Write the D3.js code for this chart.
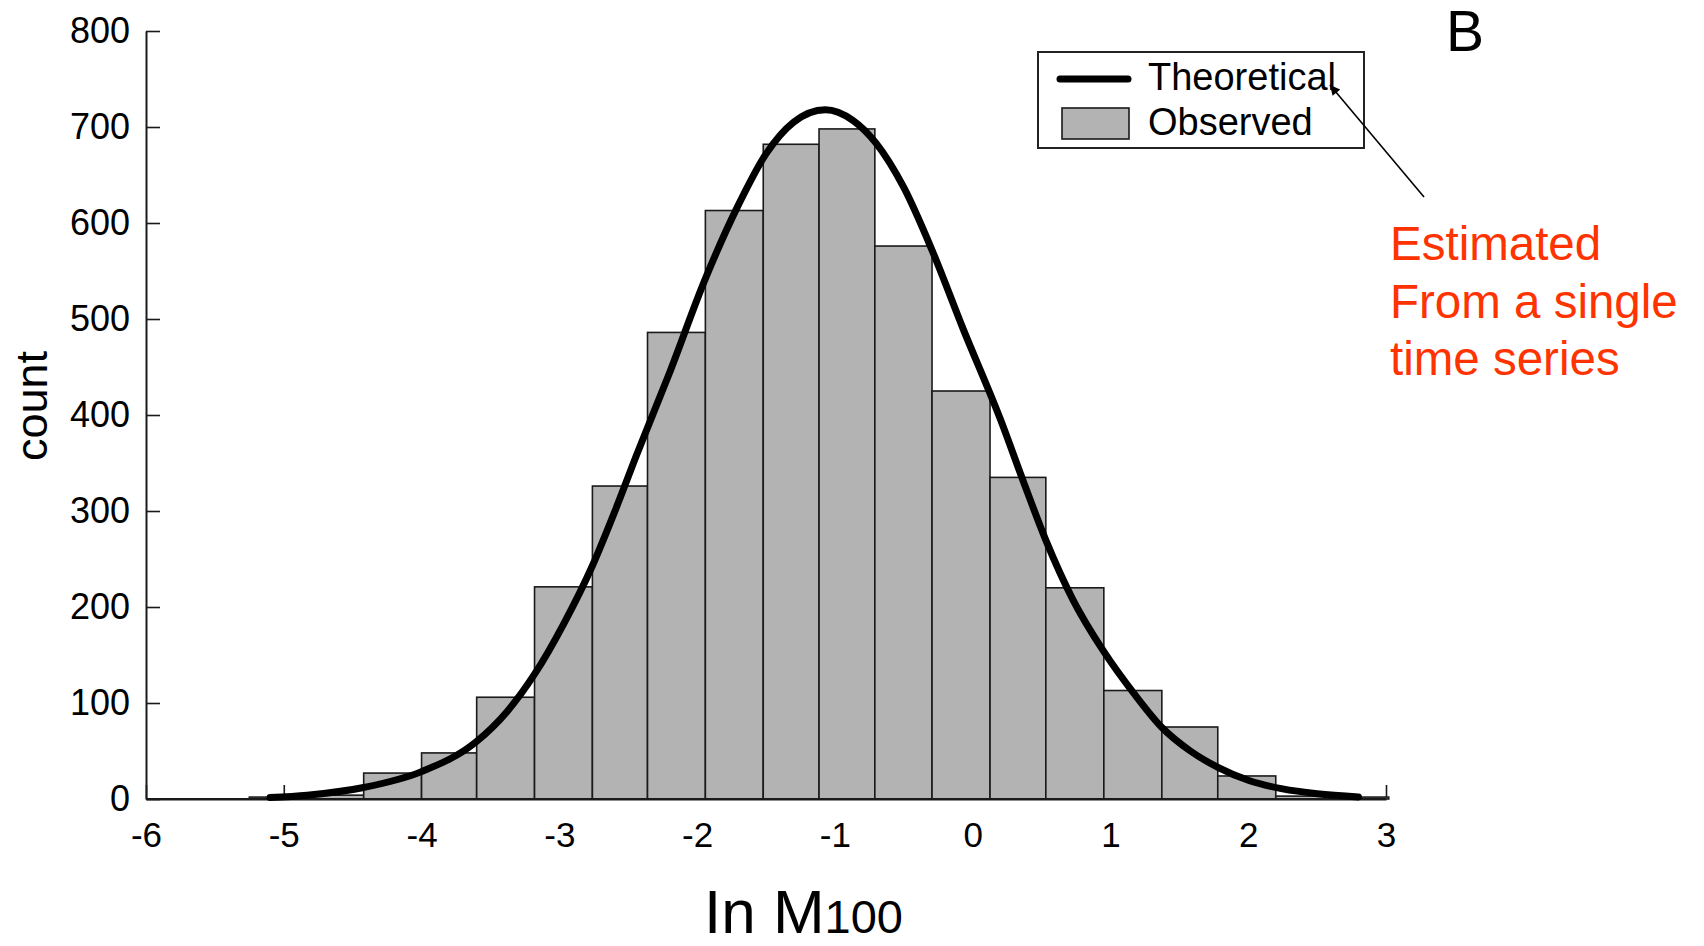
<!DOCTYPE html>
<html>
<head>
<meta charset="utf-8">
<script src="https://cdn.jsdelivr.net/npm/d3@7"></script>
<style>
  html, body { margin: 0; padding: 0; background: #ffffff; }
  svg { display: block; }
  text { font-family: "Liberation Sans", Arial, Helvetica, sans-serif; }
</style>
</head>
<body>
<svg id="chart" width="1704" height="946"></svg>
<script>
// ---- data ----
const binEdges = [-5.25, -4.84, -4.42, -4.00, -3.60, -3.18, -2.76, -2.36, -1.94, -1.52,
                  -1.115, -0.71, -0.295, 0.126, 0.531, 0.952, 1.373, 1.779, 2.20, 2.61, 3.02];
const observedCounts = [2, 4, 27, 48, 106, 221, 326, 486, 613, 682,
                        698, 576, 425, 335, 220, 113, 75, 24, 3, 2];

const theoreticalX = [-5.10, -4.83, -4.42, -4.00, -3.60, -3.38, -3.18, -2.97, -2.76, -2.585,
                      -2.44, -2.20, -1.94, -1.71, -1.50, -1.30, -1.07, -0.87, -0.70, -0.50,
                      -0.29, -0.07, 0.20, 0.37, 0.53, 0.73, 0.95, 1.17, 1.37, 1.58,
                      1.78, 2.01, 2.25, 2.50, 2.80];
const theoreticalY = [1.5, 4, 12, 28.5, 60, 91, 130, 182, 243, 304,
                      358, 444, 542, 616, 672, 705, 718, 707, 683, 637,
                      570, 490, 396, 330, 270, 207, 154, 110, 75, 50,
                      33, 19, 10.5, 5.5, 2.2];

const xTickValues = [-6, -5, -4, -3, -2, -1, 0, 1, 2, 3];
const yTickValues = [0, 100, 200, 300, 400, 500, 600, 700, 800];

const legendLabels = ["Theoretical", "Observed"];
const annotationLines = ["Estimated", "From a single", "time series"];
const panelLetter = "B";
const yAxisTitle = "count";
const xAxisTitleMain = "In M";
const xAxisTitleSub = "100";

// ---- drawing ----
const svg = d3.select("#chart");
const x = d3.scaleLinear().domain([-6, 3]).range([146, 1386]);
const y = d3.scaleLinear().domain([0, 800]).range([799, 31]);
const ink = "#1a1a1a";

// axes (drawn first so bars cover hidden ticks)
const xAxis = d3.axisBottom(x).tickValues(xTickValues).tickFormat(d => String(d))
  .tickSizeInner(-14).tickSizeOuter(0).tickPadding(23);
const yAxis = d3.axisLeft(y).tickValues(yTickValues).tickFormat(d => String(d))
  .tickSizeInner(-14).tickSizeOuter(0).tickPadding(16);

const gx = svg.append("g").attr("transform", `translate(0,${y(0)})`).call(xAxis);
const gy = svg.append("g").attr("transform", `translate(${x(-6)},0)`).call(yAxis);
[gx, gy].forEach(g => {
  g.select(".domain").attr("stroke", ink).attr("stroke-width", 2);
  g.selectAll(".tick line").attr("stroke", ink).attr("stroke-width", 1.6);
  g.selectAll(".tick text").attr("fill", "#000")
    .style("font-family", '"Liberation Sans", Arial, sans-serif');
});
gx.selectAll(".tick text").style("font-size", "35px");
gy.selectAll(".tick text").style("font-size", "36px");

// histogram bars
const bins = observedCounts.map((c, i) => ({x0: binEdges[i], x1: binEdges[i + 1], c}));
svg.append("g").selectAll("rect").data(bins).join("rect")
  .attr("x", d => x(d.x0))
  .attr("y", d => y(d.c))
  .attr("width", d => x(d.x1) - x(d.x0))
  .attr("height", d => y(0) - y(d.c))
  .attr("fill", "#b3b3b3")
  .attr("stroke", ink)
  .attr("stroke-width", 1.6);

// redraw baseline on top of bars
svg.append("line")
  .attr("x1", x(-6)).attr("x2", x(3)).attr("y1", y(0)).attr("y2", y(0))
  .attr("stroke", ink).attr("stroke-width", 2);

// theoretical curve
const curvePts = theoreticalX.map((v, i) => [v, theoreticalY[i]]);
svg.append("path")
  .datum(curvePts)
  .attr("fill", "none")
  .attr("stroke", "#000")
  .attr("stroke-width", 7)
  .attr("stroke-linejoin", "round")
  .attr("stroke-linecap", "round")
  .attr("d", d3.line().x(d => x(d[0])).y(d => y(d[1])).curve(d3.curveMonotoneX));

// axis titles
svg.append("text")
  .attr("transform", "translate(47,406) rotate(-90)")
  .attr("text-anchor", "middle")
  .style("font-size", "45px")
  .attr("fill", "#000")
  .text(yAxisTitle);

const xt = svg.append("text")
  .attr("x", 704).attr("y", 933)
  .attr("fill", "#000");
xt.append("tspan").style("font-size", "62px").text(xAxisTitleMain);
xt.append("tspan").style("font-size", "47px").text(xAxisTitleSub);

// legend
const lg = svg.append("g");
lg.append("rect")
  .attr("x", 1038).attr("y", 52).attr("width", 326).attr("height", 96)
  .attr("fill", "#fff").attr("stroke", "#222").attr("stroke-width", 2);
lg.append("line")
  .attr("x1", 1060).attr("x2", 1128).attr("y1", 79).attr("y2", 79)
  .attr("stroke", "#000").attr("stroke-width", 7).attr("stroke-linecap", "round");
lg.append("rect")
  .attr("x", 1062).attr("y", 108).attr("width", 67).attr("height", 31)
  .attr("fill", "#b3b3b3").attr("stroke", ink).attr("stroke-width", 1.6);
lg.selectAll("text.lab").data(legendLabels).join("text")
  .attr("class", "lab")
  .attr("x", 1148)
  .attr("y", (d, i) => i === 0 ? 90 : 135)
  .style("font-size", "38px")
  .attr("fill", "#000")
  .text(d => d);

// panel letter
svg.append("text")
  .attr("x", 1446).attr("y", 51)
  .style("font-size", "57px")
  .attr("fill", "#000")
  .text(panelLetter);

// arrow
svg.append("defs").append("marker")
  .attr("id", "arrowhead")
  .attr("viewBox", "0 0 10 10")
  .attr("refX", 10).attr("refY", 5)
  .attr("markerWidth", 17).attr("markerHeight", 10)
  .attr("markerUnits", "userSpaceOnUse")
  .attr("orient", "auto")
  .append("path").attr("d", "M0,0 L10,5 L0,10 Z").attr("fill", "#000");
svg.append("line")
  .attr("x1", 1424).attr("y1", 197).attr("x2", 1330).attr("y2", 85)
  .attr("stroke", "#000").attr("stroke-width", 1.6)
  .attr("marker-end", "url(#arrowhead)");

// red annotation
svg.append("g").selectAll("text").data(annotationLines).join("text")
  .attr("x", 1390)
  .attr("y", (d, i) => 260 + i * 57.5)
  .style("font-size", "47.5px")
  .attr("fill", "#ff3300")
  .text(d => d);
</script>
</body>
</html>
